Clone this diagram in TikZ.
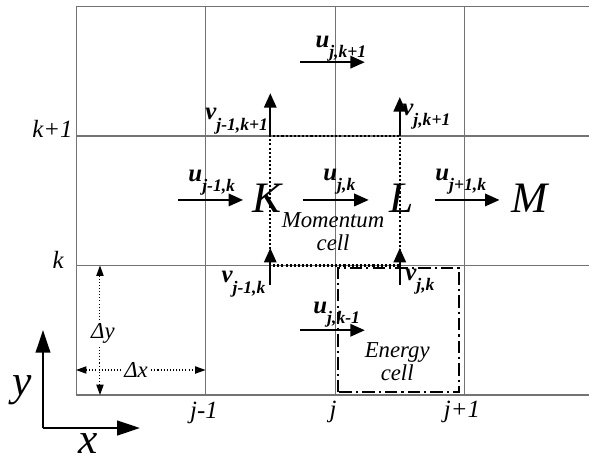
\documentclass[tikz,border=0pt]{standalone}
\usepackage{fontspec}
\setmainfont{Liberation Serif}
\usetikzlibrary{arrows.meta}
\newcommand{\flux}[2]{{\bfseries\itshape #1\raisebox{-5pt}{\fontsize{8.5}{9}\selectfont #2}}}
\begin{document}
\begin{tikzpicture}[x=2.2cm, y=2.2cm,
  gridline/.style={draw=black!55, line width=0.5pt},
  mcell/.style={densely dotted, line width=1pt},
  ecell/.style={dash pattern=on 6pt off 2pt on 1pt off 2pt, line width=0.9pt},
  vec/.style={-{Triangle[length=7pt,width=6pt]}, line width=1pt},
  axis/.style={-{Triangle[length=11pt,width=7pt]}, line width=1.2pt},
  span/.style={{Triangle[length=5pt,width=3.5pt]}-{Triangle[length=5pt,width=3.5pt]}, densely dotted, line width=0.5pt},
  lab/.style={font=\itshape\fontsize{12}{14}\selectfont, inner sep=0pt},
  big/.style={font=\itshape\fontsize{21}{24}\selectfont, inner sep=0pt},
  note/.style={font=\itshape\fontsize{11}{13}\selectfont, align=center, inner sep=1pt}
]
\useasboundingbox (-0.587,-0.510) rectangle (3.961,3.050);
% mesh
\draw[gridline, step=2.2cm] (0,0) grid (3.961,3);
% momentum and energy cells
\draw[mcell] (1.5,1) rectangle (2.5,2);
\draw[ecell] (2.02,0.02) rectangle (2.96,0.98);
% velocities
\draw[vec] (1.73,2.57) -- (2.23,2.57);
\draw[vec] (0.79,1.506) -- (1.29,1.506);
\draw[vec] (1.75,1.506) -- (2.26,1.506);
\draw[vec] (2.77,1.506) -- (3.27,1.506);
\draw[vec] (1.73,0.50) -- (2.23,0.50);
\draw[vec] (1.5,2) -- (1.5,2.33);
\draw[vec] (2.5,2) -- (2.5,2.30);
\draw[vec] (1.5,0.85) -- (1.5,1.135);
\draw[vec] (2.5,0.85) -- (2.5,1.135);
\node[lab, anchor=base west] (ujk1) at (1.846,2.687) {\flux{u}{j,k+1}};
\node[lab, anchor=base west] (uj1k) at (0.865,1.65) {\flux{u}{j-1,k}};
\node[lab, anchor=base west] (ujk) at (1.907,1.66) {\flux{u}{j,k}};
\node[lab, anchor=base west] (ujp1k) at (2.772,1.66) {\flux{u}{j+1,k}};
\node[lab, anchor=base west] (ujkm1) at (1.83,0.633) {\flux{u}{j,k-1}};
\node[lab, anchor=base east] (vj1k1) at (1.485,2.124) {\flux{v}{j-1,k+1}};
\node[lab, anchor=base west] (vjk1) at (2.517,2.162) {\flux{v}{j,k+1}};
\node[lab, anchor=base east] (vj1k) at (1.465,0.865) {\flux{v}{j-1,k}};
\node[lab, anchor=base west] (vjk) at (2.54,0.888) {\flux{v}{j,k}};
% points
\node[big, anchor=base] (K) at (1.475,1.41) {K};
\node[big, anchor=base] (L) at (2.517,1.41) {L};
\node[big, anchor=base] (M) at (3.506,1.41) {M};
\node[note] (mom) at (1.985,1.26) {Momentum\\[-2pt]cell};
\node[note] (ene) at (2.48,0.255) {Energy\\[-2pt]cell};
% indices
\node[lab, anchor=base east] (k1) at (-0.023,1.985) {k+1};
\node[lab, anchor=base east] (k) at (-0.093,0.98) {k};
\node[lab, anchor=base] (j1) at (0.988,-0.178) {j-1};
\node[lab, anchor=base] (j) at (1.985,-0.17) {j};
\node[lab, anchor=base] (jp1) at (2.98,-0.17) {j+1};
% spacing
\draw[span] (0.185,1) -- (0.185,0);
\draw[span] (0,0.193) -- (1,0.193);
\node[note, fill=white] (dy) at (0.208,0.479) {Δy};
\node[note, fill=white] (dx) at (0.463,0.193) {Δx};
% axes
\coordinate (O) at (-0.255,-0.255);
\draw[axis] (O) -- (-0.255,0.502);
\draw[axis] (O) -- (0.494,-0.255);
\node[font=\itshape\fontsize{21}{24}\selectfont, anchor=base, inner sep=0pt] (ylab) at (-0.417,0) {y};
\node[font=\itshape\fontsize{21}{24}\selectfont, anchor=base, inner sep=0pt] (xlab) at (0.093,-0.455) {x};
\end{tikzpicture}
\end{document}
